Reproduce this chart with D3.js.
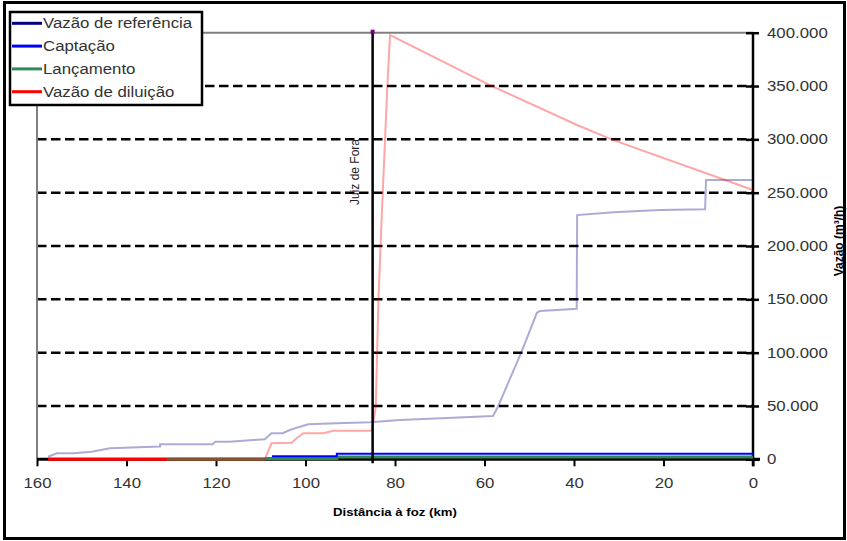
<!DOCTYPE html>
<html>
<head>
<meta charset="utf-8">
<script src="https://cdn.jsdelivr.net/npm/d3@7"></script>
<style>
body{margin:0;background:#fff;}
svg text{font-family:Arial,"Liberation Sans",sans-serif;}
</style>
</head>
<body>
<svg width="847" height="541"></svg>
<script>
// values: [distance to mouth (km), flow (m3/h)]
var seriesNames = ["Vazão de referência", "Captação", "Lançamento", "Vazão de diluição"];
var refFlow = [[157.5,2400],[155.6,5600],[151.9,5600],[147.8,7100],[143.7,10300],[132.5,12000],[132.5,14100],
  [120.7,14100],[120.2,16500],[116.9,16500],[109.1,18800],[107.6,24400],[105.1,24400],[103.5,27500],[101.2,30600],
  [99.4,32800],[93.1,33800],[85.6,34700],[78.9,36800],[67.1,39000],[58.1,40600],[57.0,49300],[51.7,100900],
  [48.3,137400],[47.6,139000],[39.4,141200],[39.3,229000],[31.2,231600],[20.8,233700],[10.7,234400],
  [10.5,261900],[0,261900]];
var intake = [[107.5,2800],[93,2800],[93,5300],[0,5300]];
var discharge = [[131,0],[109.1,0],[109.1,700],[93,700],[93,2200],[0,2200]];
var dilution = [[157.5,0],[109.1,0],[107.6,15000],[103.1,15600],[102.0,19700],[100.5,24400],[96.0,24400],
  [93.8,26800],[85.2,26800],[84.3,49000],[83.7,149400],[83.0,224400],[81.7,350900],[81.1,397800],
  [58.8,350900],[39.2,313200],[31.2,299300],[11.1,269100],[0,252500]];
var cityKm = 85;
var cityName = "Juiz de Fora";
var xTicks = [160,140,120,100,80,60,40,20,0];
var yTicks = [0,50000,100000,150000,200000,250000,300000,350000,400000];

var svg = d3.select("svg");
var x = d3.scaleLinear().domain([160,0]).range([37,753]);
var y = d3.scaleLinear().domain([0,400000]).range([459.3,32.7]);
var pt = d3.locale ? null : null;
var fmt = d3.formatLocale({decimal:",",thousands:".",grouping:[3],currency:["R$",""]}).format(",d");

function stretch(sel, k){
  sel.each(function(){
    var w = this.getComputedTextLength();
    d3.select(this).attr("textLength", w*k).attr("lengthAdjust","spacingAndGlyphs");
  });
}

// outer frame
svg.append("rect").attr("x",4.5).attr("y",2.5).attr("width",840).attr("height",536)
  .attr("fill","none").attr("stroke","#000").attr("stroke-width",3);

// grid
svg.append("g").selectAll("line")
  .data(yTicks.filter(function(d){return d>0 && d<400000;}))
  .enter().append("line")
  .attr("x1",x(160)).attr("x2",x(0))
  .attr("y1",function(d){return y(d);}).attr("y2",function(d){return y(d);})
  .attr("stroke","#000").attr("stroke-width",2.5).attr("stroke-dasharray","9.5,4.5");

// plot frame (gray top and left)
svg.append("line").attr("x1",x(160)).attr("x2",x(0)).attr("y1",y(400000)).attr("y2",y(400000))
  .attr("stroke","#808080").attr("stroke-width",2);
svg.append("line").attr("x1",x(160)).attr("x2",x(160)).attr("y1",y(400000)).attr("y2",y(0))
  .attr("stroke","#808080").attr("stroke-width",2);

// x axis
var xaxis = d3.axisBottom(x).tickValues(xTicks).tickSize(7).tickPadding(12).tickFormat(d3.format("d"));
var gx = svg.append("g").attr("transform","translate(0,"+y(0)+")").call(xaxis);
gx.select(".domain").remove();
gx.selectAll(".tick line").attr("stroke","#000").attr("stroke-width",2);
gx.selectAll(".tick text").attr("font-size",14).attr("fill","#333").call(stretch,1.2);

// y axis on the right
var yaxis = d3.axisRight(y).tickValues(yTicks).tickSize(6).tickPadding(8).tickFormat(fmt);
var gy = svg.append("g").attr("transform","translate("+x(0)+",0)").call(yaxis);
gy.select(".domain").remove();
gy.selectAll(".tick line").attr("x1",-7).attr("stroke","#000").attr("stroke-width",2.5);
gy.selectAll(".tick text").attr("font-size",14).attr("fill","#333").call(stretch,1.2);

svg.append("line").attr("x1",x(0)).attr("x2",x(0)).attr("y1",y(400000)).attr("y2",y(0)+7)
  .attr("stroke","#000").attr("stroke-width",2.5);
svg.append("line").attr("x1",x(160)).attr("x2",x(0)+7).attr("y1",y(0)).attr("y2",y(0))
  .attr("stroke","#000").attr("stroke-width",3);

// series
var line = d3.line().x(function(d){return x(d[0]);}).y(function(d){return y(d[1]);});
var zeroLine = d3.line().defined(function(d){return d[1]===0;})
  .x(function(d){return x(d[0]);}).y(function(d){return y(d[1]);});

svg.append("path").datum(refFlow).attr("d",line).attr("fill","none")
  .attr("stroke","#000080").attr("stroke-opacity",0.33).attr("stroke-width",2);
svg.append("path").datum(dilution).attr("d",line).attr("fill","none")
  .attr("stroke","#ff0000").attr("stroke-opacity",0.35).attr("stroke-width",2);
svg.append("path").datum(dilution).attr("d",zeroLine).attr("fill","none")
  .attr("stroke","#ff0000").attr("stroke-width",3);
svg.append("path").datum(discharge).attr("d",zeroLine).attr("fill","none")
  .attr("stroke","#2e8b57").attr("stroke-opacity",0.6).attr("stroke-width",3);
svg.append("path").datum(discharge.filter(function(d){return d[0]<=109.1;}).slice(1)).attr("d",line).attr("fill","none")
  .attr("stroke","#2e8b57").attr("stroke-width",3);
svg.append("path").datum(intake).attr("d",line).attr("fill","none")
  .attr("stroke","#0000ff").attr("stroke-width",2);

// Juiz de Fora marker line
svg.append("line").attr("x1",x(cityKm)).attr("x2",x(cityKm))
  .attr("y1",y(400000)-2).attr("y2",y(0)+4)
  .attr("stroke","#000").attr("stroke-width",2.5);
svg.append("rect").attr("x",x(cityKm)-2).attr("y",y(400000)-3).attr("width",4).attr("height",4)
  .attr("fill","#800080");
svg.append("text").attr("transform","translate(359,172) rotate(-90)")
  .attr("text-anchor","middle").attr("font-size",12).attr("fill","#222").text(cityName);

// axis titles
svg.append("text").attr("x",395).attr("y",516).attr("text-anchor","middle")
  .attr("font-size",11).attr("font-weight","bold").text("Distância à foz (km)").call(stretch,1.2);
svg.append("text").attr("transform","translate(843,241) rotate(-90)").attr("text-anchor","middle")
  .attr("font-size",12).attr("font-weight","bold").text("Vazão (m³/h)");

// legend
var colors = ["#000080","#0000ff","#2e8b57","#ff0000"];
var lg = svg.append("g");
lg.append("rect").attr("x",10).attr("y",12).attr("width",192).attr("height",93)
  .attr("fill","#fff").attr("stroke","#000").attr("stroke-width",2.5);
var rows = lg.selectAll("g.row").data(seriesNames).enter().append("g")
  .attr("transform",function(d,i){return "translate(0,"+(23.3+i*22.8)+")";});
rows.append("line").attr("x1",12).attr("x2",42).attr("stroke-width",3)
  .attr("stroke",function(d,i){return colors[i];});
rows.append("text").attr("x",43).attr("dy","0.35em").attr("font-size",14).attr("fill","#333")
  .text(function(d){return d;}).call(stretch,1.2);
</script>
</body>
</html>
